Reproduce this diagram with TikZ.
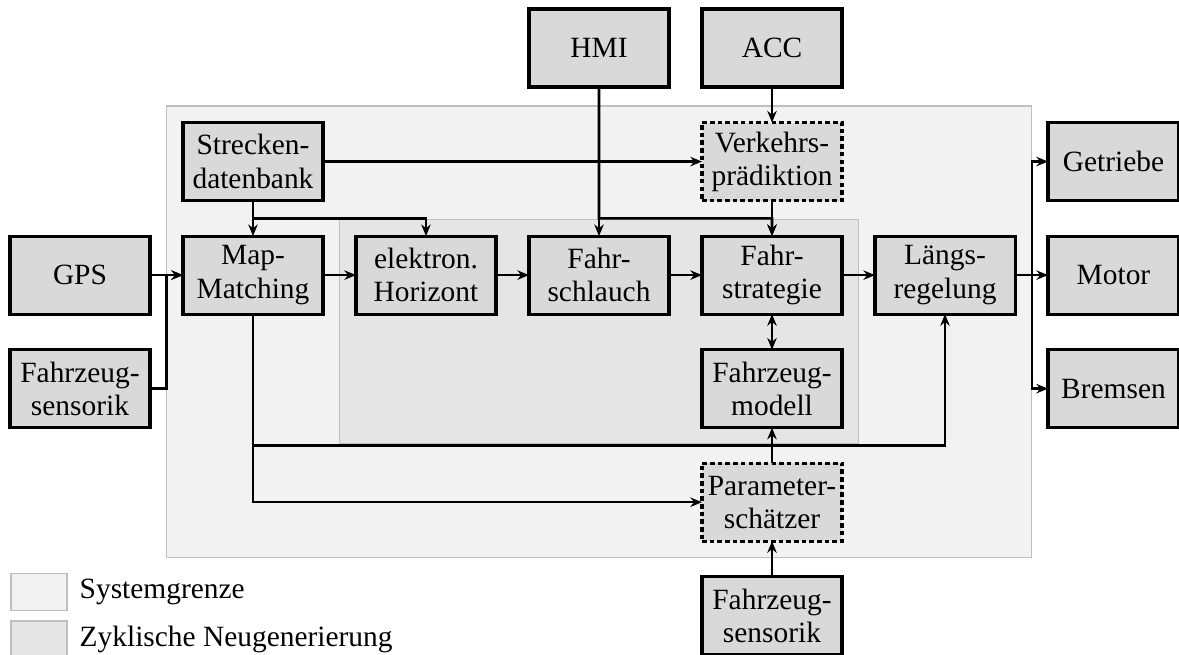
\documentclass[tikz,border=0pt]{standalone}
\usepackage{fontspec}
\setmainfont{Liberation Serif}
\usepackage{tikz}
\usetikzlibrary{arrows.meta,positioning,calc,fit,backgrounds}

\begin{document}
\begin{tikzpicture}[
    node distance=0.488cm and 0.453cm,
    font=\fontsize{11.5}{13}\selectfont,
    blk/.style={rectangle, draw=black, fill=black!15, line width=1.2pt, outer sep=0pt, inner sep=1pt, align=center, minimum height=1.072cm, minimum width=1.924cm},
    blkd/.style={blk, dash pattern=on 1.8pt off 1.2pt},
    ext/.style={blk, minimum width=1.8cm},
    arr/.style={-{Stealth[length=1.6mm, width=1.3mm]}, line width=1pt},
    darr/.style={{Stealth[length=1.6mm, width=1.3mm]}-{Stealth[length=1.6mm, width=1.3mm]}, line width=1pt},
    area/.style={rectangle, draw=black!25, line width=0.6pt, inner sep=0.225cm},
    leg/.style={rectangle, draw=black!25, line width=0.6pt, minimum width=0.77cm, minimum height=0.51cm}
]
    \useasboundingbox (-3.476,-5.216) rectangle (12.723,3.78);

    % main chain
    \node [blk] (map) {Map-\\Matching};
    \node [blk, above=of map] (strecken) {Strecken-\\datenbank};
    \node [blk, left=of map] (gps) {GPS};
    \node [blk, below=of gps] (sensL) {Fahrzeug-\\sensorik};
    \node [blk, right=of map] (hor) {elektron.\\Horizont};
    \node [blk, right=of hor] (schlauch) {Fahr-\\schlauch};
    \node [blk, right=of schlauch] (strat) {Fahr-\\strategie};
    \node [blk, right=of strat] (laengs) {Längs-\\regelung};

    % actuators
    \node [ext, right=of laengs] (motor) {Motor};
    \node [ext, above=of motor] (getriebe) {Getriebe};
    \node [ext, below=of motor] (bremsen) {Bremsen};

    % upper inputs
    \node [blkd, above=of strat] (verkehr) {Verkehrs-\\prädiktion};
    \node [blk, above=of verkehr] (acc) {ACC};
    \node [blk, left=of acc] (hmi) {HMI};

    % lower part
    \node [blk, below=of strat] (modell) {Fahrzeug-\\modell};
    \node [blkd, below=of modell] (param) {Parameter-\\schätzer};
    \node [blk, below=of param] (sensB) {Fahrzeug-\\sensorik};

    \begin{scope}[on background layer]
        \node [area, fill=black!5, fit=(strecken)(laengs)(param)] (sys) {};
        \node [area, fill=black!10, fit=(hor)(modell)] (cyc) {};
    \end{scope}

    % legend
    \node [leg, fill=black!5, anchor=north west] (leg1) at ($(sensL.south west)+(0,-1.99)$) {};
    \node [leg, fill=black!10, below=0.124cm of leg1] (leg2) {};
    \node [inner sep=0pt, right=0.16cm of leg1] (legt1) {Systemgrenze};
    \node [inner sep=0pt, right=0.16cm of leg2] (legt2) {Zyklische Neugenerierung};

    \coordinate (sj) at ($(strecken.south)!0.5!(map.north)$);
    \coordinate (vj) at ($(verkehr.south)!0.5!(strat.north)$);
    \coordinate (mj) at ($(modell.south)!0.5!(param.north)$);

    \draw [arr] (gps) -- (map);
    \draw [arr] (sensL.east) -- ++(0.226,0) |- (map.west);
    \draw [arr] (strecken) -- (map);
    \draw [arr] (strecken.south) -- (sj) -| (hor.north);
    \draw [arr] (strecken) -- (verkehr);
    \draw [arr] (acc) -- (verkehr);
    \draw [arr] (hmi) -- (schlauch);
    \draw [arr] (hmi.south) |- (vj) -- (strat.north);
    \draw [arr] (verkehr) -- (strat);
    \draw [arr] (map) -- (hor);
    \draw [arr] (hor) -- (schlauch);
    \draw [arr] (schlauch) -- (strat);
    \draw [arr] (strat) -- (laengs);
    \draw [arr] (laengs) -- (motor);
    \draw [arr] (laengs.east) -- ++(0.234,0) |- (getriebe.west);
    \draw [arr] (laengs.east) -- ++(0.234,0) |- (bremsen.west);
    \draw [darr] (strat) -- (modell);
    \draw [arr] (param) -- (modell);
    \draw [arr] (sensB) -- (param);
    \draw [arr] (map.south) |- (mj) -| (laengs.south);
    \draw [arr] (map.south) |- (param.west);
\end{tikzpicture}
\end{document}
